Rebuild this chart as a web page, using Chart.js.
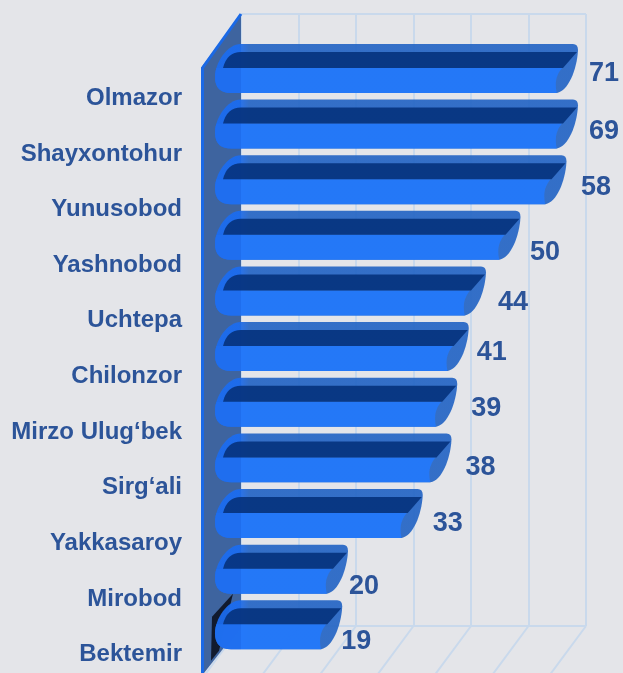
<!DOCTYPE html>
<html>
<head>
<meta charset="utf-8">
<style>
  html, body { margin: 0; padding: 0; background: #e4e5e9; }
  #wrap { width: 623px; height: 673px; }
</style>
<script src="https://cdn.jsdelivr.net/npm/chart.js@4"></script>
</head>
<body>
<div id="wrap"><canvas id="grafico" width="623" height="673"></canvas></div>
<script>
const tumanlar = ['Olmazor', 'Shayxontohur', 'Yunusobod', 'Yashnobod', 'Uchtepa', 'Chilonzor', 'Mirzo Ulug‘bek', 'Sirg‘ali', 'Yakkasaroy', 'Mirobod', 'Bektemir'];
const qiymatlar = [71, 69, 58, 50, 44, 41, 39, 38, 33, 20, 19];
// the original axis stops at 60, longer bars just get cut there
const xMax = 60;
const xStep = 10;

// hand placed value labels, relative to the bar end / bar middle
const labelDx = [18, 18, 21.5, 16.5, 19, 15, 21, 21, 17, 8, 6];
const labelDy = [5, 7, 8, 17, 12, 6, 6, 10, 10.5, 17, 17];

const matn = '#2c5499';
const panjara = '#c9d9ec';
const depthX = -40, depthY = 54;   // how far the floor comes forward
const frontX = -8, frontY = 26.6;  // bars sit in front of the back wall

function devorChiz(chart) {
    const { ctx, chartArea: a, scales: { x } } = chart;
    ctx.save();
    ctx.strokeStyle = panjara;
    ctx.lineWidth = 2;
    ctx.beginPath();
    ctx.moveTo(a.left, a.top);
    ctx.lineTo(a.right, a.top);
    ctx.moveTo(a.left, a.bottom);
    ctx.lineTo(a.right, a.bottom);
    x.ticks.forEach((t, i) => {
        const px = x.getPixelForTick(i);
        ctx.moveTo(px, a.bottom);
        ctx.lineTo(px + depthX, a.bottom + depthY);
    });
    ctx.stroke();

    // side wall
    ctx.beginPath();
    ctx.moveTo(a.left, a.top);
    ctx.lineTo(a.left + depthX, a.top + depthY);
    ctx.lineTo(a.left + depthX, chart.height);
    ctx.lineTo(a.left + depthX + 3, chart.height);
    ctx.lineTo(a.left, a.bottom);
    ctx.closePath();
    ctx.fillStyle = '#3e649f';
    ctx.fill();
    ctx.strokeStyle = '#1a69e6';
    ctx.lineWidth = 3;
    ctx.beginPath();
    ctx.moveTo(a.left, a.top);
    ctx.lineTo(a.left + depthX + 1.5, a.top + depthY);
    ctx.lineTo(a.left + depthX + 1.5, chart.height);
    ctx.stroke();
    ctx.restore();
}

function barYoli(ctx, L, xe, yt, yb) {
    ctx.beginPath();
    ctx.moveTo(L + 26, yt);
    ctx.lineTo(xe - 5, yt);
    ctx.quadraticCurveTo(xe, yt, xe, yt + 6);
    ctx.bezierCurveTo(xe - 1, yt + 26, xe - 10, yb - 2, xe - 21, yb);
    ctx.lineTo(L + 16, yb);
    ctx.quadraticCurveTo(L, yb, L, yb - 16);
    ctx.bezierCurveTo(L, yb - 30, L + 12, yt, L + 26, yt);
    ctx.closePath();
}

function barChiz(chart, bar) {
    const { ctx, chartArea: a } = chart;
    const xe = Math.min(bar.x, a.right) + frontX;
    const L = bar.base + frontX - 19;
    const yt = bar.y + frontY - bar.height / 2;
    const yb = yt + bar.height;
    const ym = yt + 24;

    ctx.save();
    ctx.globalAlpha = 0.93;
    barYoli(ctx, L, xe, yt, yb);
    // rim is bright round the left end, darker along the top
    const rim = ctx.createLinearGradient(L, 0, L + 34, 0);
    rim.addColorStop(0, '#1b6cf0');
    rim.addColorStop(0.7, '#1b6cf0');
    rim.addColorStop(1, '#2666c4');
    ctx.fillStyle = rim;
    ctx.fill();
    ctx.clip();

    // front face
    ctx.beginPath();
    ctx.moveTo(L - 2, ym);
    ctx.lineTo(xe - 16, ym);
    ctx.bezierCurveTo(xe - 21, ym + 6, xe - 24, ym + 14, xe - 21, yb + 1);
    ctx.lineTo(L - 2, yb + 1);
    ctx.closePath();
    ctx.fillStyle = '#2379fb';
    ctx.fill();

    // left part of the face, a bit deeper than the rest
    ctx.beginPath();
    ctx.rect(L - 2, ym, a.left - L + 2, yb - ym + 1);
    ctx.fillStyle = 'rgba(15, 70, 190, 0.2)';
    ctx.fill();

    // dark inside
    ctx.beginPath();
    ctx.moveTo(L + 8, ym);
    ctx.quadraticCurveTo(L + 12, yt + 8, L + 26, yt + 8);
    ctx.lineTo(xe - 1, yt + 8);
    ctx.lineTo(xe - 15, ym);
    ctx.closePath();
    ctx.fillStyle = '#06347f';
    ctx.fill();
    ctx.restore();
}

const barlar3d = {
    id: 'barlar3d',
    beforeDatasetsDraw(chart) {
        devorChiz(chart);
    },
    afterDatasetsDraw(chart) {
        const { ctx, chartArea: a } = chart;
        const bars = chart.getDatasetMeta(0).data;

        // dark smudge behind the last bar
        const last = bars[bars.length - 1];
        const my = last.y + frontY;
        ctx.save();
        ctx.fillStyle = '#111a2e';
        ctx.beginPath();
        ctx.moveTo(a.left - 8, my - 31);
        ctx.lineTo(a.left - 29, my - 8);
        ctx.lineTo(a.left - 30, my + 36);
        ctx.lineTo(a.left - 22, my + 26);
        ctx.closePath();
        ctx.fill();
        ctx.restore();

        bars.forEach(bar => barChiz(chart, bar));

        ctx.save();
        ctx.font = 'bold 27px "Liberation Sans"';
        ctx.fillStyle = matn;
        ctx.textAlign = 'center';
        ctx.textBaseline = 'middle';
        bars.forEach((bar, i) => {
            const px = Math.min(bar.x, a.right);
            ctx.fillText(qiymatlar[i], px + labelDx[i], bar.y + frontY + labelDy[i]);
        });
        ctx.restore();
    }
};

new Chart(document.getElementById('grafico'), {
    type: 'bar',
    data: {
        labels: tumanlar,
        datasets: [{
            data: qiymatlar,
            backgroundColor: 'transparent',
            barPercentage: 0.88,
            categoryPercentage: 1
        }]
    },
    options: {
        indexAxis: 'y',
        responsive: false,
        animation: false,
        layout: { padding: { top: 14, right: 37, bottom: 47, left: 0 } },
        plugins: { legend: { display: false }, tooltip: { enabled: false } },
        scales: {
            x: {
                min: 0,
                max: xMax,
                ticks: { display: false, stepSize: xStep },
                grid: { color: panjara, lineWidth: 2, drawTicks: false },
                border: { display: false },
                afterFit(scale) {
                    scale.height = 0;
                    scale.paddingLeft = 0;
                    scale.paddingRight = 0;
                }
            },
            y: {
                grid: { display: false, drawTicks: false },
                border: { display: false },
                ticks: {
                    color: matn,
                    font: { family: '"Liberation Sans"', weight: 'bold', size: 24 },
                    padding: 59,
                    labelOffset: 56.5,
                    autoSkip: false
                },
                afterFit(scale) {
                    scale.width = 241;
                    // labelOffset makes chart.js keep room it does not need here
                    scale.paddingTop = 0;
                    scale.paddingBottom = 0;
                }
            }
        }
    },
    plugins: [barlar3d]
});
</script>
</body>
</html>
